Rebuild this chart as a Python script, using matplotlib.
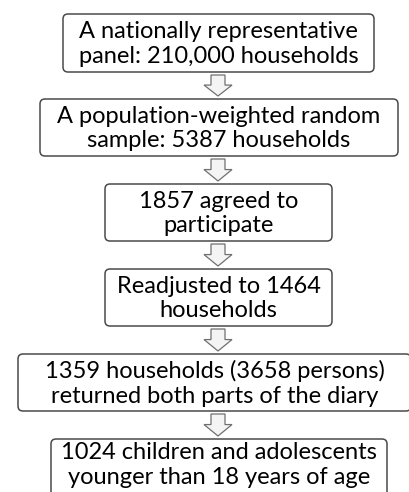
import matplotlib.pyplot as plt
from matplotlib.patches import FancyBboxPatch, Polygon

# ── Content ────────────────────────────────────────────────────────────────────
STEPS = [
    "A nationally representative\npanel: 210,000 households",
    "A population-weighted random\nsample: 5387 households",
    "1857 agreed to\nparticipate",
    "Readjusted to 1464\nhouseholds",
    "1359 households (3658 persons)\nreturned both parts of the diary",
    "1024 children and adolescents\nyounger than 18 years of age",
]

# ── Layout (pixel coords, y down) ──────────────────────────────────────────────
BOX_X = [(63, 374), (40, 398), (105, 332), (105, 332), (18, 411), (51, 387)]
BOX_Y = [(14, 72), (99, 156), (184, 241), (269, 326), (354, 411), (439, 500)]
CX = 218
W, H = 409, 492

fig = plt.figure(figsize=(W / 100, H / 100), dpi=100)
ax = fig.add_axes([0, 0, 1, 1])
ax.set_xlim(0, W)
ax.set_ylim(H, 0)
ax.axis("off")

for text, (x0, x1), (y0, y1) in zip(STEPS, BOX_X, BOX_Y):
    ax.add_patch(FancyBboxPatch((x0, y0), x1 - x0, y1 - y0,
                                boxstyle="round,pad=0,rounding_size=5",
                                facecolor="white", edgecolor="#4a4a4a",
                                linewidth=1.1))
    yc = (y0 + y1) / 2 + 1 if y1 < H else y0 + 26
    ax.text((x0 + x1) / 2, yc, text,
            ha="center", va="center", fontsize=17, family="Lato",
            linespacing=1.22, color="black")

# hollow block arrows between boxes
for (_, ya), (yb, _) in zip(BOX_Y[:-1], BOX_Y[1:]):
    top, bot = ya + 3, yb - 3
    mid = top + (bot - top) * 0.48
    pts = [(CX - 7, top), (CX + 7, top), (CX + 7, mid), (CX + 14, mid),
           (CX, bot), (CX - 14, mid), (CX - 7, mid)]
    ax.add_patch(Polygon(pts, closed=True, facecolor="#f4f4f4",
                         edgecolor="#707070", linewidth=0.9))

fig.savefig("out.png", dpi=100)
